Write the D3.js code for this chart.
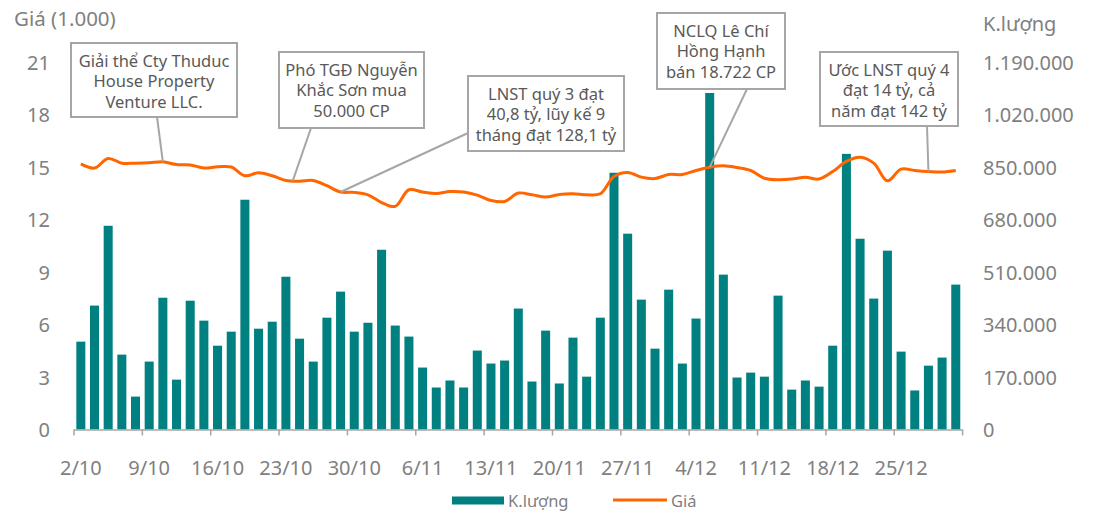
<!DOCTYPE html>
<html>
<head>
<meta charset="utf-8">
<script src="https://cdn.jsdelivr.net/npm/d3@7"></script>
<style>
    body { margin: 0; background: #fff; }
    svg text { font-family: 'Noto Sans', sans-serif; }
</style>
</head>
<body>
<div id="main"></div>
<script>
// trading days, 2/10 -> 29/12
const dates = [
    '2/10', '3/10', '4/10', '5/10', '6/10', '9/10', '10/10', '11/10', '12/10', '13/10',
    '16/10', '17/10', '18/10', '19/10', '20/10', '23/10', '24/10', '25/10', '26/10', '27/10',
    '30/10', '31/10', '1/11', '2/11', '3/11', '6/11', '7/11', '8/11', '9/11', '10/11',
    '13/11', '14/11', '15/11', '16/11', '17/11', '20/11', '21/11', '22/11', '23/11', '24/11',
    '27/11', '28/11', '29/11', '30/11', '1/12', '4/12', '5/12', '6/12', '7/12', '8/12',
    '11/12', '12/12', '13/12', '14/12', '15/12', '18/12', '19/12', '20/12', '21/12', '22/12',
    '25/12', '26/12', '27/12', '28/12', '29/12'
];

const volume = [
    284500, 401200, 659600, 242500, 106500, 219900, 426700, 161500, 417100, 352500,
    271400, 316800, 744000, 326400, 349100, 494700, 294100, 219900, 362100, 446500,
    316800, 345700, 582000, 336600, 300900, 200600, 136000, 158700, 136000, 255600,
    213600, 223300, 391600, 155300, 320200, 149000, 297500, 171100, 362100, 831300,
    634100, 420500, 261800, 452800, 213600, 359300, 1089700, 501500, 168300, 184200,
    171100, 433500, 129200, 158700, 138800, 271400, 892500, 617700, 423900, 579100,
    252200, 126400, 206800, 232900, 469200
];

const price = [
    15.18, 14.94, 15.49, 15.22, 15.22, 15.24, 15.30, 15.14, 15.12, 14.94,
    15.01, 15.00, 14.50, 14.67, 14.50, 14.23, 14.19, 14.23, 13.93, 13.57,
    13.55, 13.41, 12.97, 12.75, 13.70, 13.57, 13.49, 13.60, 13.57, 13.39,
    13.09, 13.03, 13.51, 13.41, 13.28, 13.43, 13.47, 13.41, 13.47, 14.46,
    14.69, 14.42, 14.34, 14.57, 14.57, 14.80, 14.99, 15.07, 14.97, 14.80,
    14.36, 14.27, 14.31, 14.42, 14.31, 14.74, 15.32, 15.56, 15.22, 14.21,
    14.88, 14.80, 14.74, 14.71, 14.80
];

const tickLabels = ['2/10', '9/10', '16/10', '23/10', '30/10', '6/11', '13/11', '20/11', '27/11', '4/12', '11/12', '18/12', '25/12'];
const priceTicks = [0, 3, 6, 9, 12, 15, 18, 21];
const volumeTicks = [0, 170000, 340000, 510000, 680000, 850000, 1020000, 1190000];

const noteText = [
    ['Giải thể Cty Thuduc', 'House Property', 'Venture LLC.'],
    ['Phó TGĐ Nguyễn', 'Khắc Sơn mua', '50.000 CP'],
    ['LNST quý 3 đạt', '40,8 tỷ, lũy kế 9', 'tháng đạt 128,1 tỷ'],
    ['NCLQ Lê Chí', 'Hồng Hạnh', 'bán 18.722 CP'],
    ['Ước LNST quý 4', 'đạt 14 tỷ, cả', 'năm đạt 142 tỷ']
];
// index on the price line each note points to
const noteAt = [6, 15.5, 19, 46, 62];

const w = 1094;
const h = 512;

const padL = 74, padR = 962.6, padT = 62, padB = 429.5;
const grey = '#808080';

const vn = d3.formatLocale({ decimal: ',', thousands: '.', grouping: [3], currency: ['', ''] });
const fmt = vn.format(',');

const svg = d3.select('#main')
    .append('svg')
    .attr('width', w)
    .attr('height', h);

const x = d3.scaleBand()
    .domain(dates)
    .range([padL, padR])
    .paddingInner(0.34)
    .paddingOuter(0.17);

const yPrice = d3.scaleLinear().domain([0, 21]).range([padB, padT]);
const yVol = d3.scaleLinear().domain([0, 1190000]).range([padB, padT]);

const cx = (i) => x(dates[i]) + x.bandwidth() / 2;

// bars
svg.append('g')
    .selectAll('rect')
    .data(volume)
    .enter()
    .append('rect')
    .attr('x', (d, i) => x(dates[i]))
    .attr('y', d => yVol(d))
    .attr('width', x.bandwidth())
    .attr('height', d => yVol(0) - yVol(d))
    .attr('fill', '#008080');

// x axis
svg.append('line')
    .attr('x1', padL).attr('x2', padR)
    .attr('y1', padB + 0.5).attr('y2', padB + 0.5)
    .attr('stroke', '#a6a6a6').attr('stroke-width', 1.5);

const edges = d3.range(0, dates.length + 1, 5);
svg.append('g')
    .selectAll('line')
    .data(edges)
    .enter()
    .append('line')
    .attr('x1', d => padL + d * x.step())
    .attr('x2', d => padL + d * x.step())
    .attr('y1', padB)
    .attr('y2', padB + 6)
    .attr('stroke', '#a6a6a6')
    .attr('stroke-width', 1.5);

svg.append('g')
    .selectAll('text')
    .data(tickLabels)
    .enter()
    .append('text')
    .attr('x', d => x(d) + x.bandwidth() / 2)
    .attr('y', 467)
    .attr('text-anchor', 'middle')
    .attr('dominant-baseline', 'central')
    .attr('fill', grey)
    .style('font-size', '20px')
    .text(d => d);

// left axis
svg.append('g')
    .selectAll('text')
    .data(priceTicks)
    .enter()
    .append('text')
    .attr('x', 50)
    .attr('y', d => yPrice(d))
    .attr('text-anchor', 'end')
    .attr('dominant-baseline', 'central')
    .attr('fill', grey)
    .style('font-size', '20px')
    .text(d => d);

svg.append('text')
    .attr('x', 14).attr('y', 18)
    .attr('dominant-baseline', 'central')
    .attr('fill', grey)
    .style('font-size', '20.5px')
    .text('Giá (1.000)');

// right axis
svg.append('g')
    .selectAll('text')
    .data(volumeTicks)
    .enter()
    .append('text')
    .attr('x', 983)
    .attr('y', d => yVol(d))
    .attr('dominant-baseline', 'central')
    .attr('fill', grey)
    .style('font-size', '20px')
    .text(d => fmt(d));

svg.append('text')
    .attr('x', 983).attr('y', 23)
    .attr('dominant-baseline', 'central')
    .attr('fill', grey)
    .style('font-size', '20px')
    .text('K.lượng');

// price line
const line = d3.line()
    .x((d, i) => cx(i))
    .y(d => yPrice(d))
    .curve(d3.curveCatmullRom.alpha(0.5));

svg.append('path')
    .datum(price)
    .attr('d', line)
    .attr('fill', 'none')
    .attr('stroke', '#ff6600')
    .attr('stroke-width', 3);

// callouts
const boxes = [
    { x0: 71, y0: 43, x1: 237, y1: 117, fx: 157, fy: 117 },
    { x0: 279, y0: 52, x1: 424, y1: 128, fx: 311, fy: 128 },
    { x0: 468, y0: 76, x1: 624, y1: 151, fx: 468, fy: 133 },
    { x0: 657, y0: 13, x1: 785, y1: 89, fx: 747, fy: 89 },
    { x0: 820, y0: 52, x1: 958, y1: 126, fx: 927, fy: 126 }
];

const anchor = (a) => {
    const i = Math.floor(a), t = a - i;
    const j = Math.min(i + 1, price.length - 1);
    return [cx(i) + t * (cx(j) - cx(i)), yPrice(price[i] + t * (price[j] - price[i]))];
};

const note = svg.append('g')
    .selectAll('g')
    .data(boxes)
    .enter()
    .append('g');

note.append('line')
    .attr('x1', d => d.fx)
    .attr('y1', d => d.fy)
    .attr('x2', (d, i) => anchor(noteAt[i])[0])
    .attr('y2', (d, i) => anchor(noteAt[i])[1])
    .attr('stroke', '#a6a6a6')
    .attr('stroke-width', 2);

note.append('rect')
    .attr('x', d => d.x0)
    .attr('y', d => d.y0)
    .attr('width', d => d.x1 - d.x0)
    .attr('height', d => d.y1 - d.y0)
    .attr('fill', '#fff')
    .attr('stroke', '#a6a6a6')
    .attr('stroke-width', 2);

note.append('text')
    .attr('text-anchor', 'middle')
    .attr('fill', '#595959')
    .style('font-size', '16.5px')
    .selectAll('tspan')
    .data((d, i) => noteText[i].map(t => ({ t, b: d })))
    .enter()
    .append('tspan')
    .attr('x', d => (d.b.x0 + d.b.x1) / 2)
    .attr('y', (d, k) => d.b.y0 + 17 + k * 20.5)
    .attr('dominant-baseline', 'central')
    .text(d => d.t);

// legend
const legend = svg.append('g');
legend.append('rect')
    .attr('x', 452).attr('y', 496.5)
    .attr('width', 52).attr('height', 8)
    .attr('fill', '#008080');
legend.append('text')
    .attr('x', 508).attr('y', 500)
    .attr('dominant-baseline', 'central')
    .attr('fill', grey)
    .style('font-size', '16.5px')
    .text('K.lượng');
legend.append('line')
    .attr('x1', 613).attr('x2', 667)
    .attr('y1', 500).attr('y2', 500)
    .attr('stroke', '#ff6600').attr('stroke-width', 3);
legend.append('text')
    .attr('x', 671).attr('y', 500)
    .attr('dominant-baseline', 'central')
    .attr('fill', grey)
    .style('font-size', '16.5px')
    .text('Giá');
</script>
</body>
</html>
